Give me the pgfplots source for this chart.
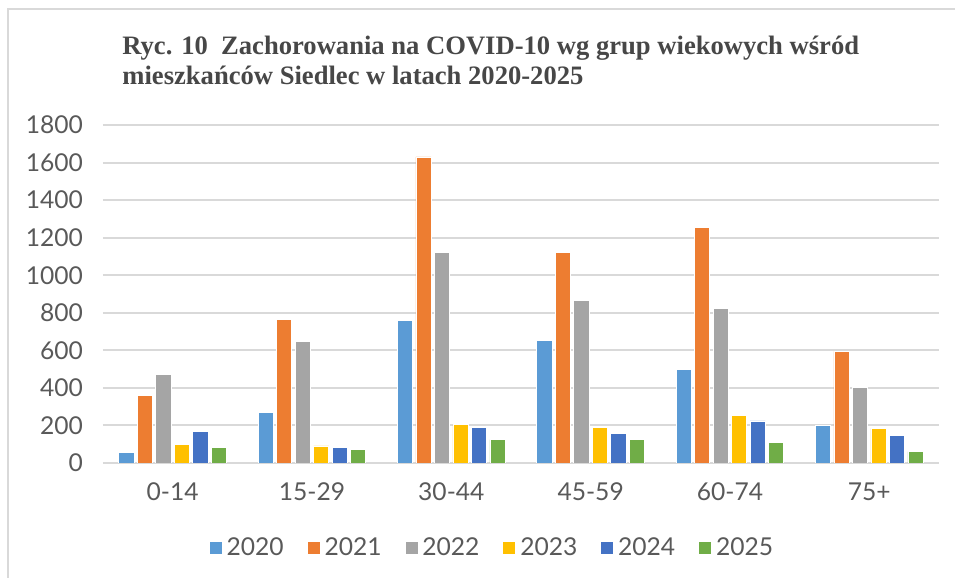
\documentclass[border=0pt]{standalone}
\usepackage{fontspec}
\setmainfont{Lato}
\newfontfamily\titlefont{Liberation Serif}
\usepackage{pgfplots}
\pgfplotsset{compat=1.18}

\definecolor{c2020}{HTML}{5B9BD5}
\definecolor{c2021}{HTML}{ED7D31}
\definecolor{c2022}{HTML}{A5A5A5}
\definecolor{c2023}{HTML}{FFC000}
\definecolor{c2024}{HTML}{4472C4}
\definecolor{c2025}{HTML}{70AD47}
\definecolor{gridc}{HTML}{D9D9D9}
\definecolor{txt}{HTML}{595959}

\begin{document}
\begin{tikzpicture}
\useasboundingbox (0,0) rectangle (477.5pt,289pt);
% frame of the chart area
\draw[gridc, line width=1pt] (3.75pt,0) -- (3.75pt,284.5pt) -- (477.5pt,284.5pt);
% title
\node[anchor=base west, font=\titlefont\bfseries\fontsize{13.3}{16}\selectfont, text=black!72, inner sep=0]
  at (61pt,261.8pt) {Ryc. 10\ \ Zachorowania na COVID-10 wg grup wiekowych wśród};
\node[anchor=base west, font=\titlefont\bfseries\fontsize{13.3}{16}\selectfont, text=black!72, inner sep=0]
  at (61pt,246.6pt) {mieszkańców Siedlec w latach 2020-2025};
\begin{axis}[
    at={(51.5pt,57.5pt)}, anchor=south west,
    scale only axis,
    width=418pt, height=169pt,
    ybar=1.65pt,
    bar width=7.6pt,
    xmin=-0.5, xmax=5.5,
    ymin=0, ymax=1800,
    ytick={0,200,...,1800},
    xtick={0,1,2,3,4,5},
    xticklabels={0-14,15-29,30-44,45-59,60-74,75+},
    axis line style={draw=none},
    axis x line*=bottom,
    x axis line style={draw=gridc, line width=1pt},
    y axis line style={draw=none},
    ymajorgrids,
    grid style={gridc, line width=1pt},
    major tick length=0pt,
    tick style={draw=none},
    ticklabel style={font=\fontsize{12.3}{14}\selectfont, text=txt},
    /pgf/number format/assume math mode=true,
    /pgf/number format/1000 sep={},
    yticklabel style={xshift=-6.5pt},
    xticklabel style={yshift=-6.5pt},
    legend columns=6,
    legend style={draw=none, fill=none, at={(0.4665,-0.2515)}, anchor=center,
      font=\fontsize{12.3}{14}\selectfont, text=txt,
      /tikz/every even column/.append style={column sep=9.5pt}},
    legend image code/.code={\fill[#1] (0pt,-3.2pt) rectangle (6.5pt,3.3pt);},
    every axis plot/.append style={draw=white, line width=0.4pt},
]
\addplot[fill=c2020] coordinates {(0,55) (1,271) (2,760) (3,653) (4,497) (5,200)};
\addplot[fill=c2021] coordinates {(0,358) (1,765) (2,1630) (3,1122) (4,1255) (5,595)};
\addplot[fill=c2022] coordinates {(0,471) (1,646) (2,1122) (3,866) (4,822) (5,401)};
\addplot[fill=c2023] coordinates {(0,97) (1,91) (2,203) (3,190) (4,251) (5,184)};
\addplot[fill=c2024] coordinates {(0,170) (1,81) (2,191) (3,156) (4,224) (5,146)};
\addplot[fill=c2025] coordinates {(0,83) (1,70) (2,124) (3,124) (4,108) (5,60)};
\legend{2020,2021,2022,2023,2024,2025}
\end{axis}
\end{tikzpicture}
\end{document}
